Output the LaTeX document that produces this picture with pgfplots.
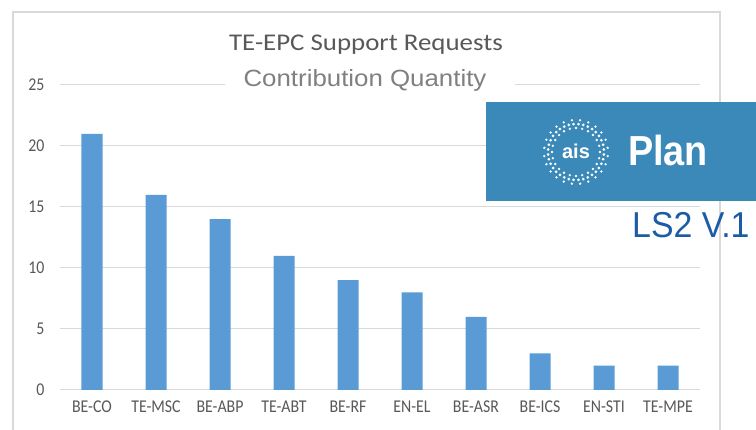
\documentclass[border=0pt]{standalone}
\usepackage{pgfplots}
\pgfplotsset{compat=1.18}
\usepackage{fontspec}
\setmainfont{Carlito}
\newfontfamily\tickf{Carlito}[FakeStretch=0.88]
\newfontfamily\titlef{Carlito}[FakeStretch=1.12]
\newfontfamily\arialf{Liberation Sans}[FakeStretch=1.1]
\newfontfamily\arialn{Liberation Sans}[FakeStretch=0.94]
\newfontfamily\arialb{Liberation Sans Bold}[FakeStretch=0.9]
\newfontfamily\arialbb{Liberation Sans Bold}
\definecolor{barblue}{HTML}{5B9BD5}
\definecolor{gridc}{HTML}{D9D9D9}
\definecolor{framec}{HTML}{D9D9D9}
\definecolor{labc}{HTML}{595959}
\definecolor{boxblue}{HTML}{3A89B8}
\definecolor{lsblue}{HTML}{1C5CA6}
\definecolor{cqgray}{HTML}{808080}
\begin{document}
\begin{tikzpicture}[x=1pt,y=1pt]
\path[use as bounding box] (0,0) rectangle (756,430);
\fill[white] (0,0) rectangle (756,430);
\draw[framec, line width=1.5pt] (13,-5) -- (13,418) -- (720,418) -- (720,-5);
\begin{axis}[
  at={(60pt,40pt)}, anchor=south west,
  scale only axis, width=640pt, height=305pt,
  xmin=-0.5, xmax=9.5, ymin=0, ymax=25,
  ytick={0,5,10,15,20,25},
  xtick={0,...,9},
  xticklabels={BE-CO,TE-MSC,BE-ABP,TE-ABT,BE-RF,EN-EL,BE-ASR,BE-ICS,EN-STI,TE-MPE},
  ymajorgrids, grid style={gridc, line width=1pt},
  axis line style={draw=none},
  major tick length=0pt, tick style={draw=none},
  clip=false,
  /pgf/number format/assume math mode=true,
  xticklabel style={font=\tickf\fontsize{18}{20}\selectfont, text=labc, anchor=north, yshift=-7pt},
  yticklabel style={font=\tickf\fontsize{18}{20}\selectfont, text=labc, anchor=east, xshift=-12pt},
]
\addplot[ybar, bar width=21pt, fill=barblue, draw=none] coordinates {
(0,21) (1,16) (2,14) (3,11) (4,9) (5,8) (6,6) (7,3) (8,2) (9,2)};
\end{axis}
% title
\node[text=labc, font=\titlef\fontsize{24}{28}\selectfont] at (366,385) {TE-EPC Support Requests};
% overlay subtitle
\fill[white] (225,331) rectangle (515,368);
\node[anchor=base, text=cqgray, font=\arialf\fontsize{23.5}{28}\selectfont, inner sep=0pt] at (365,343) {Contribution Quantity};
% logo box
\fill[boxblue] (486,229) rectangle (756,328);
\foreach \a in {0,15,...,345} {\fill[white] (576,278) ++(\a:24) circle (1.3);}
\foreach \a in {5,15,...,355} {\fill[white] (576,278) ++(\a:28) circle (1.5);}
\foreach \a in {7.5,22.5,...,352.5} {\fill[white] (576,278) ++(\a:32) circle (1.3);}
\node[text=white, font=\arialbb\fontsize{20}{22}\selectfont] at (576,279) {ais};
\node[anchor=base west, inner sep=0pt, text=white, font=\arialb\fontsize{42}{46}\selectfont] at (628,264) {Plan};
\node[anchor=base west, inner sep=0pt, text=lsblue, font=\arialn\fontsize{36}{40}\selectfont] at (632,192) {LS2 V.1};
\end{tikzpicture}
\end{document}
